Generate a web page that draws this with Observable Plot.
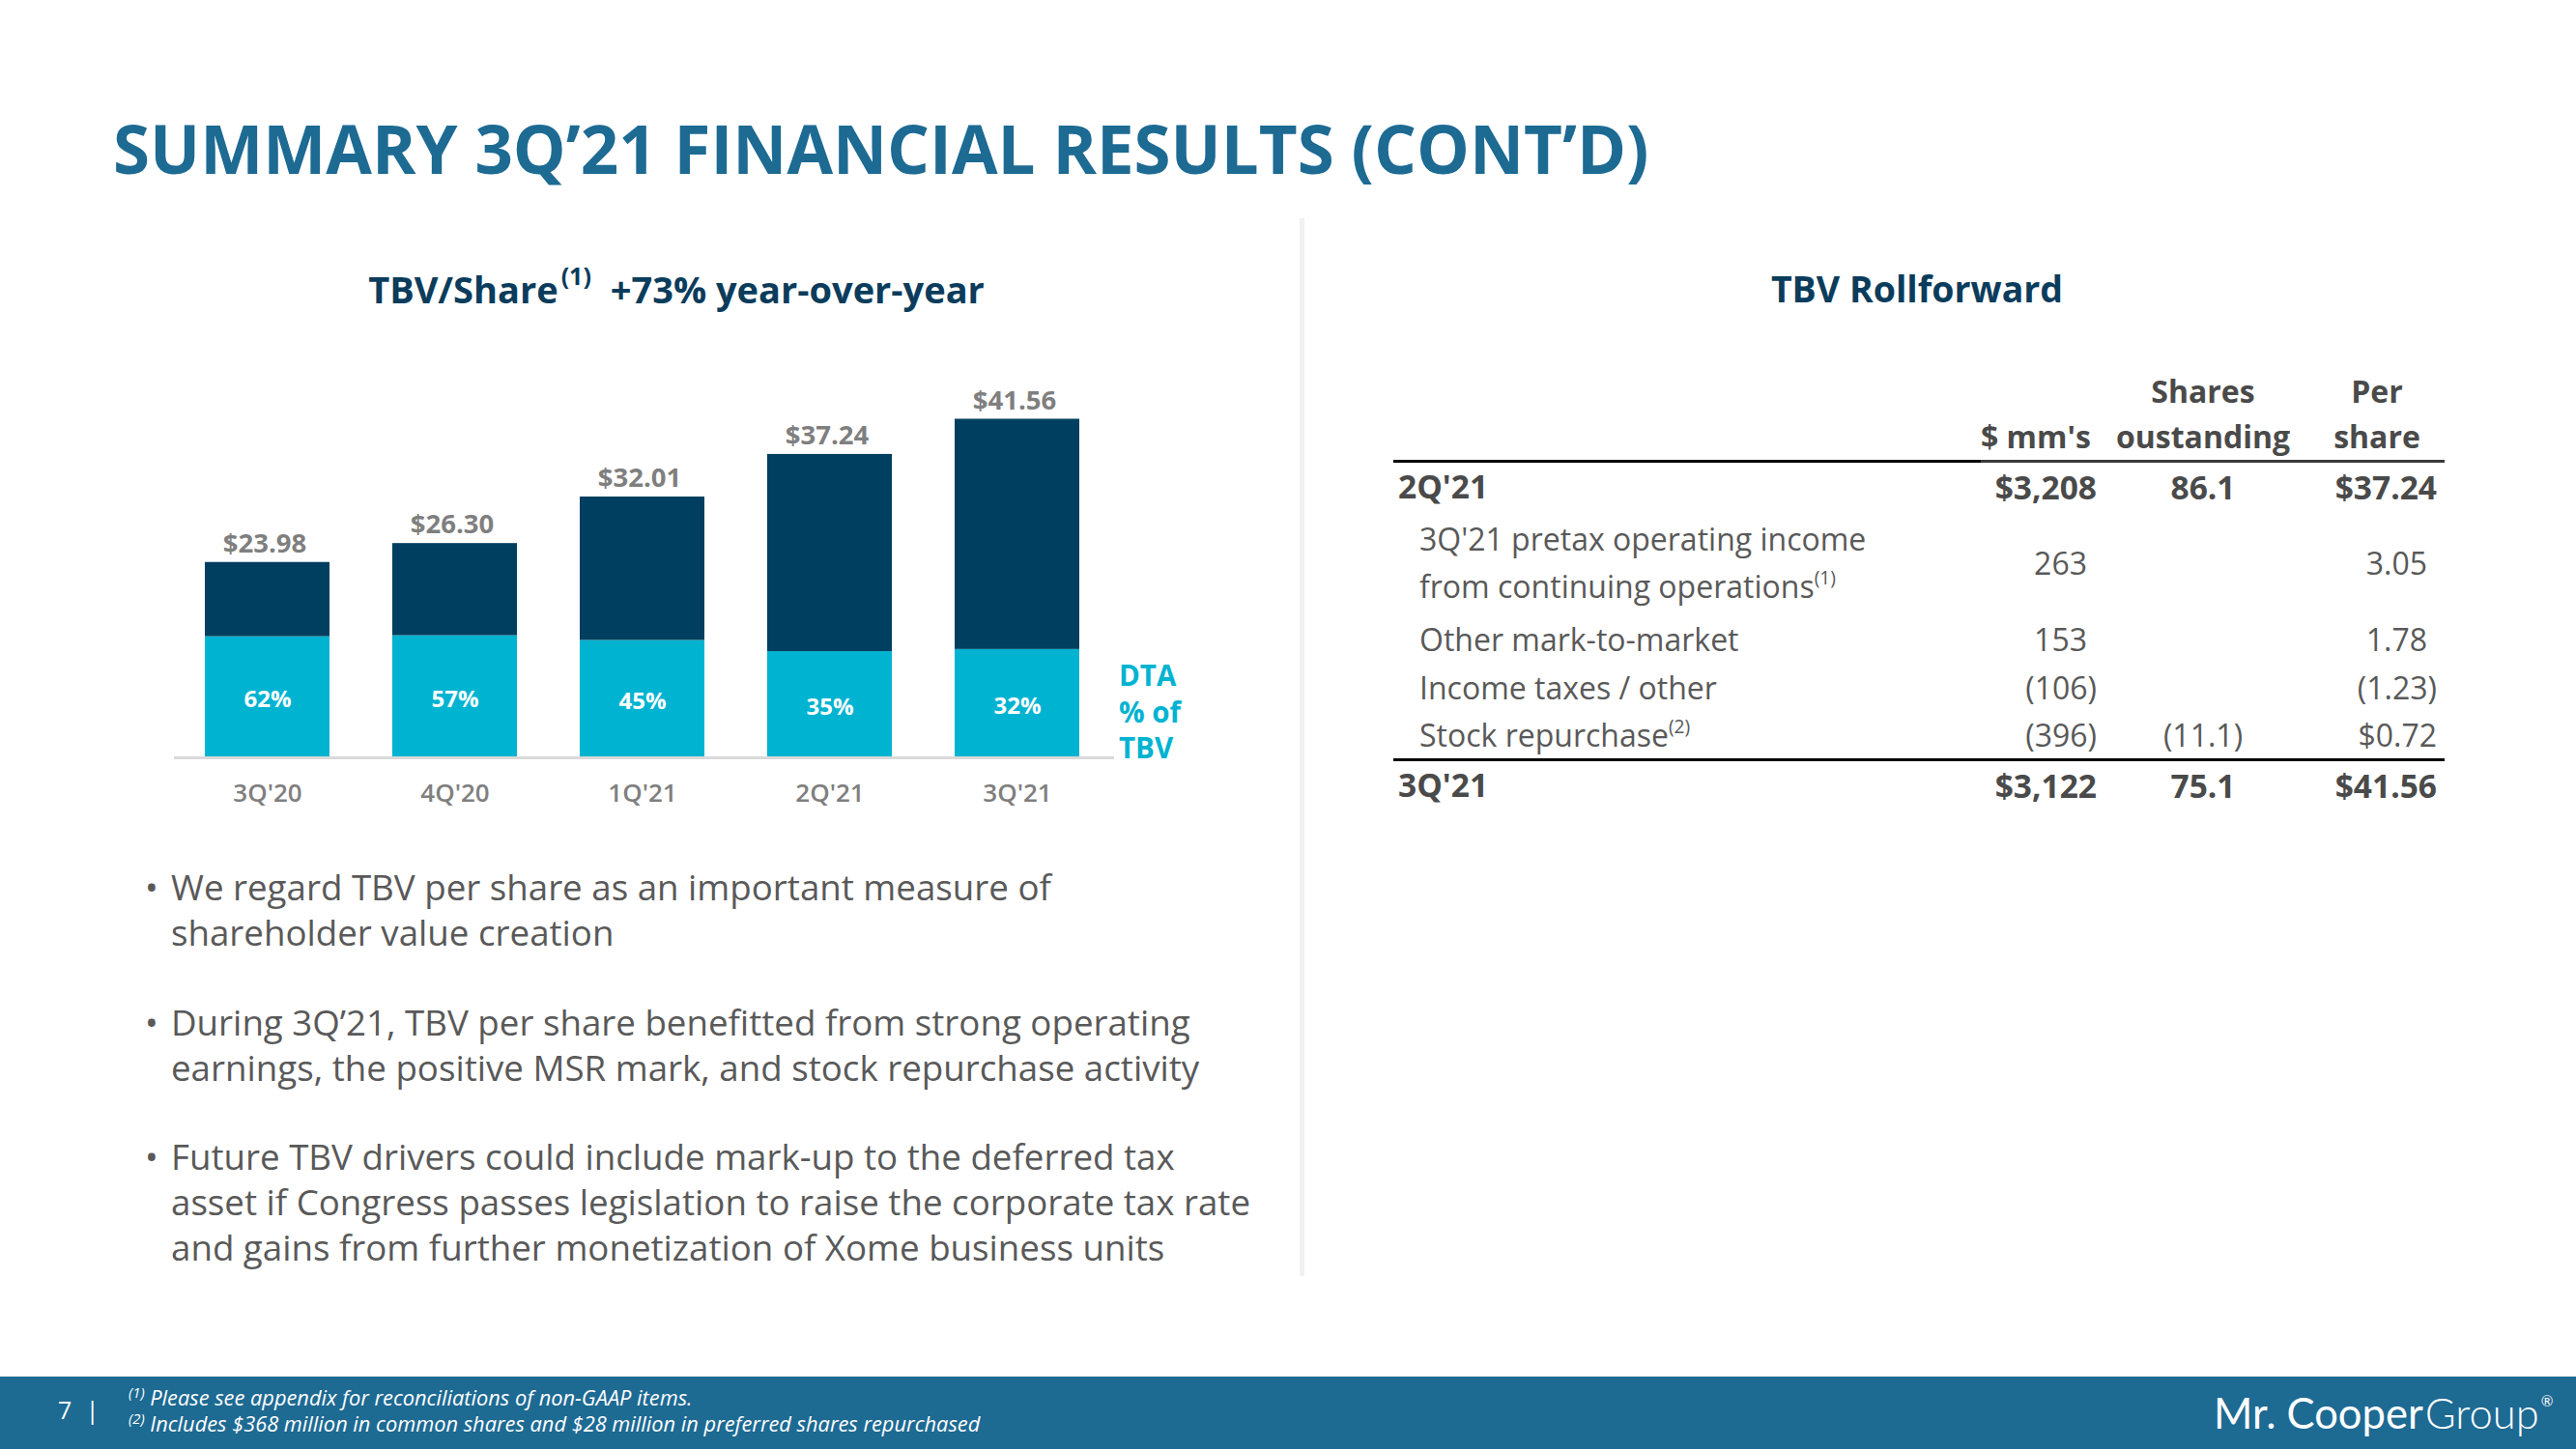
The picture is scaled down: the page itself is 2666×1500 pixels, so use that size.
<!DOCTYPE html>
<html>
<head>
<meta charset="utf-8">
<script src="https://cdn.jsdelivr.net/npm/d3@7"></script>
<script src="https://cdn.jsdelivr.net/npm/@observablehq/plot@0.6"></script>
<style>
  html, body { margin: 0; padding: 0; background: #fff; }
  body { width: 2666px; height: 1500px; position: relative; overflow: hidden; font-family: "Open Sans", sans-serif; }
  .abs { position: absolute; white-space: nowrap; }
  sup { font-size: 0.6em; vertical-align: 0; position: relative; top: -0.75em; line-height: 0; }
  table.tbv { position: absolute; left: 1442px; top: 381px; border-collapse: collapse; width: 1088px; table-layout: fixed; }
  table.tbv td { padding: 0; white-space: nowrap; font-size: 32px; color: #595959; }
  table.tbv td.b { font-weight: 700; color: #4a4a4a; }
</style>
</head>
<body>
<div class="abs" id="title" style="left:117px; top:108px; font-size:69px; font-weight:700; color:#1d6a93; line-height:90px;"></div>
<div class="abs" style="left:1345px; top:226px; width:5px; height:1095px; background:#f1f1f1;"></div>
<div class="abs" id="chartTitle" style="left:333px; top:275px; width:734px; text-align:center; font-size:38px; font-weight:700; color:#0b3c5c; line-height:48px;"></div>
<div class="abs" id="tableTitle" style="left:1784px; top:275px; width:400px; text-align:center; font-size:37.5px; font-weight:700; color:#0b3c5c; line-height:48px;"></div>
<div id="chart" class="abs" style="left:150px; top:350px;"></div>
<div class="abs" id="dta" style="left:1158px; top:680px; font-size:29.5px; font-weight:700; color:#00b3d1; line-height:37.5px;"></div>
<div id="bullets"></div>
<table class="tbv" id="tbv"></table>
<div class="abs" style="left:0; top:1425px; width:2666px; height:75px; background:#1d6a93;"></div>
<div class="abs" id="page" style="left:60px; top:1440px; font-size:25px; color:#fff; line-height:38px;"></div>
<div class="abs" id="notes" style="left:133px; top:1433px; font-size:21.8px; font-style:italic; color:#fff; line-height:27px;"></div>
<div class="abs" id="logo" style="left:2291px; top:1435px; font-family:Lato, sans-serif; font-size:43.5px; color:#fff; line-height:54px;"></div>
<script>
// ---------- data ----------
const quarters = ["3Q'20", "4Q'20", "1Q'21", "2Q'21", "3Q'21"];
const tbvPerShare = [23.98, 26.30, 32.01, 37.24, 41.56];
const dtaPct = [62, 57, 45, 35, 32];
const valueLabels = ["$23.98", "$26.30", "$32.01", "$37.24", "$41.56"];

const titleText = "SUMMARY 3Q\u201921 FINANCIAL RESULTS (CONT\u2019D)";
const chartTitleMain = "TBV/Share";
const chartTitleSup = "(1)";
const chartTitleRest = "+73% year-over-year";
const tableTitleText = "TBV Rollforward";
const dtaLines = ["DTA", "% of", "TBV"];

const bullets = [
  ["We regard TBV per share as an important measure of", "shareholder value creation"],
  ["During 3Q\u201921, TBV per share benefitted from strong operating", "earnings, the positive MSR mark, and stock repurchase activity"],
  ["Future TBV drivers could include mark-up to the deferred tax", "asset if Congress passes legislation to raise the corporate tax rate", "and gains from further monetization of Xome business units"]
];

const headerRow1 = ["", "", "Shares", "Per"];
const headerRow2 = ["", "$ mm's", "oustanding", "share"];
const rowLabels = [["2Q'21"], ["3Q'21 pretax operating income", "from continuing operations"], ["Other mark-to-market"], ["Income taxes / other"], ["Stock repurchase"], ["3Q'21"]];
const rowSups = ["", "(1)", "", "", "(2)", ""];
const rowMm = ["$3,208", "263", "153", "(106)", "(396)", "$3,122"];
const rowShares = ["86.1", "", "", "", "(11.1)", "75.1"];
const rowPerShare = ["$37.24", "3.05", "1.78", "(1.23)", "$0.72", "$41.56"];
const rowBold = [true, false, false, false, false, true];

const footnotes = [["(1)", "Please see appendix for reconciliations of non-GAAP items."], ["(2)", "Includes $368 million in common shares and $28 million in preferred shares repurchased"]];
const pageNum = "7";

// ---------- text ----------
document.getElementById("title").textContent = titleText;
document.getElementById("chartTitle").innerHTML = `${chartTitleMain}<sup style="font-size:0.66em; margin-left:3px">${chartTitleSup}</sup>&nbsp;&nbsp;${chartTitleRest}`;
document.getElementById("tableTitle").textContent = tableTitleText;
document.getElementById("dta").innerHTML = dtaLines.join("<br>");

const bulletTops = [918, 1058, 1197];
const bl = document.getElementById("bullets");
bullets.forEach((lines, i) => {
  const d = document.createElement("div");
  d.className = "abs";
  d.style.cssText = `left:150px; top:${bulletTops[i] - 23.5}px; font-size:36.7px; color:#595959; line-height:47px;`;
  d.innerHTML = `<span style="position:absolute; left:0; top:0;">\u2022</span>` +
    lines.map(l => `<div style="margin-left:27px">${l}</div>`).join("");
  bl.appendChild(d);
});

document.getElementById("page").innerHTML = `${pageNum} <span style="margin-left:8px">|</span>`;
document.getElementById("notes").innerHTML = footnotes.map(([s, t]) => `<div><sup style="top:-0.55em; font-size:0.68em">${s}</sup> ${t}</div>`).join("");
document.getElementById("logo").innerHTML = `Mr. Cooper<span style="font-weight:300; margin-left:2px">Group</span><sup style="font-size:0.35em; top:-1.5em; margin-left:2px">\u00ae</sup>`;

// ---------- table ----------
const tbl = document.getElementById("tbv");
const colW = [608, 130, 200, 150];
let html = `<colgroup>${colW.map(w => `<col style="width:${w}px">`).join("")}</colgroup>`;
const hdrStyle = "font-weight:700; color:#4a4a4a; font-size:32px;";
html += `<tr style="height:47px">` + headerRow1.map((h, j) =>
  `<td style="${hdrStyle} text-align:${j === 1 ? "right" : "center"}; ${j===3?"padding-left:10px;":""}">${h}</td>`).join("") + `</tr>`;
html += `<tr style="height:47px">` + headerRow2.map((h, j) =>
  `<td style="${hdrStyle} text-align:${j === 1 ? "right" : "center"}; border-bottom:3px solid ${j === 0 ? "#000" : "#3a3a3a"}; ${j===1?"padding-right:17px;":""} ${j===3?"padding-left:10px;":""} vertical-align:top; line-height:48px;">${h}</td>`).join("") + `</tr>`;
const rowH = [50, 108, 50, 50, 41, 50];
function numPad(s) { return (s.endsWith(")") || s.startsWith("$")) ? 0 : 10; }
rowLabels.forEach((lab, i) => {
  const b = rowBold[i] ? "b" : "";
  const border = i === 4 ? "border-bottom:3px solid #000;" : "";
  const fs = rowBold[i] ? "font-size:33.5px;" : "";
  const labHtml = lab.map((l, k) => k === lab.length - 1 && rowSups[i] ? `${l}<sup>${rowSups[i]}</sup>` : l).join("<br>");
  html += `<tr style="height:${rowH[i]}px">` +
    `<td class="${b}" style="${border} ${fs} padding-left:${rowBold[i] ? 5 : 27}px; line-height:49px;">${labHtml}</td>` +
    `<td class="${b}" style="${border} ${fs} text-align:right; padding-right:${10 + numPad(rowMm[i])}px;">${rowMm[i]}</td>` +
    `<td class="${b}" style="${border} ${fs} text-align:center;">${rowShares[i]}</td>` +
    `<td class="${b}" style="${border} ${fs} text-align:right; padding-right:${8 + numPad(rowPerShare[i])}px;">${rowPerShare[i]}</td>` +
    `</tr>`;
});
tbl.innerHTML = html;

// ---------- chart ----------
const data = quarters.map((q, i) => ({
  q, tbv: tbvPerShare[i], pct: dtaPct[i], dta: tbvPerShare[i] * dtaPct[i] / 100, label: valueLabels[i], pctLabel: dtaPct[i] + "%"
}));

const chart = Plot.plot({
  width: 1010,
  height: 520,
  marginLeft: 30,
  marginRight: 7,
  marginTop: 12,
  marginBottom: 86,
  style: { fontFamily: "Open Sans, sans-serif", background: "transparent", overflow: "visible" },
  x: { domain: quarters, range: [30, 1000], paddingInner: 0.335, paddingOuter: 0.1675, axis: null },
  y: { domain: [0, 50], range: [434, 12.3], axis: null },
  marks: [
    Plot.barY(data, { x: "q", y1: 0, y2: "dta", fill: "#00b3d1" }),
    Plot.barY(data, { x: "q", y1: "dta", y2: "tbv", fill: "#003f5f" }),
    Plot.ruleY([0], { stroke: "#d9d9d9", strokeWidth: 3 }),
    Plot.text(data, { x: "q", y: "tbv", text: "label", dy: -19, dx: -3, lineAnchor: "middle", fontSize: 27.5, fontWeight: 700, fill: "#7f7f7f" }),
    Plot.text(data, { x: "q", y: d => d.dta / 2, text: "pctLabel", dy: 3, lineAnchor: "middle", fontSize: 24, fontWeight: 700, fill: "#ffffff" }),
    Plot.text(data, { x: "q", y: 0, text: "q", dy: 37, lineAnchor: "middle", fontSize: 26, fontWeight: 600, fill: "#7f7f7f" })
  ]
});
document.getElementById("chart").appendChild(chart);
</script>
</body>
</html>
